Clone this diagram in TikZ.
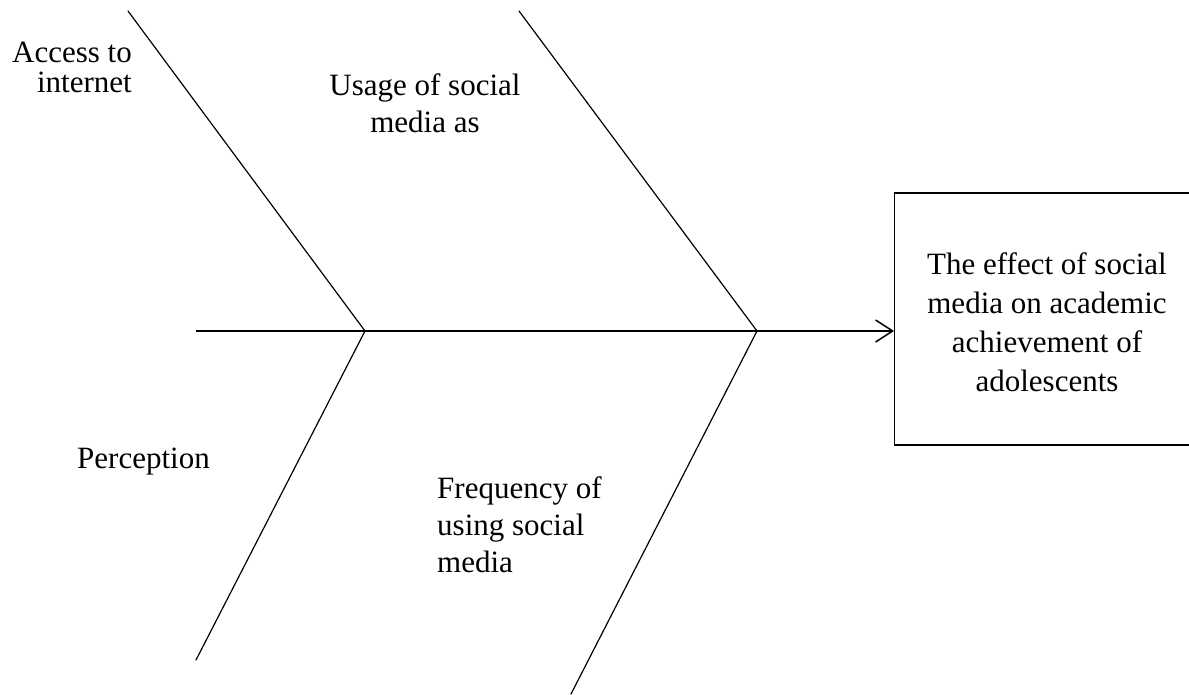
\documentclass[tikz,border=0pt]{standalone}
\usepackage{fontspec}
\setmainfont{Liberation Serif}
\usetikzlibrary{arrows.meta}
\tikzset{
  lbl/.style={inner sep=0pt, font=\fontsize{31}{37}\selectfont},
  bone/.style={line width=1.2pt, line cap=round},
  spine/.style={line width=2.6pt},
  effectbox/.style={draw, line width=1.3pt, inner sep=0pt, minimum width=346pt, minimum height=252pt},
  efftext/.style={inner sep=0pt, align=center, font=\fontsize{31}{39}\selectfont}
}
\begin{document}
\begin{tikzpicture}[x=1pt,y=-1pt]
\useasboundingbox (0,0) rectangle (1189,695);
\clip (0,0) rectangle (1189,695);
\node[effectbox, anchor=west] (box) at (894,319) {};
\node[efftext] (eff) at (1047,322) {The effect of social\\media on academic\\achievement of\\adolescents};
\coordinate (s) at (196,331);
\coordinate (j1) at (365,331);
\coordinate (j2) at (757,331);
\coordinate (a) at (128,11);
\coordinate (b) at (519,11);
\coordinate (c) at (196,660);
\coordinate (d) at (571,694);
\draw[spine, -{Straight Barb[length=17pt,width=22pt,line width=1.5pt]}] (s) -- (s -| box.west);
\draw[bone] (a) -- (j1) -- (c);
\draw[bone] (b) -- (j2) -- (d);
\node[lbl, anchor=east, align=right, font=\fontsize{31}{30}\selectfont] (acc) at (132,67) {Access to\\internet};
\node[lbl, align=center] (use) at (425,103) {Usage of social\\media as};
\node[lbl, anchor=west] (per) at (77,462) {Perception};
\node[lbl, anchor=west, align=left] (fre) at (437,525) {Frequency of\\using social\\media};
\end{tikzpicture}
\end{document}
